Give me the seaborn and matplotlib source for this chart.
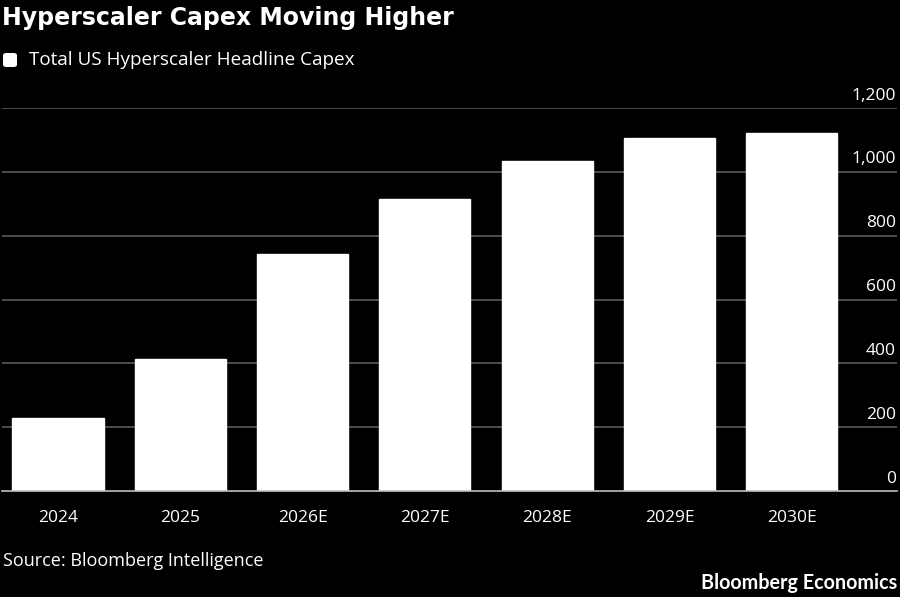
import matplotlib
matplotlib.use("Agg")
import matplotlib.pyplot as plt
import matplotlib.transforms as mtransforms
from matplotlib.patches import FancyBboxPatch
import seaborn as sns
import pandas as pd

# chart data
years = ["2024", "2025", "2026E", "2027E", "2028E", "2029E", "2030E"]
capex = [230, 414, 742, 916, 1035, 1107, 1122]
y_ticks = [0, 200, 400, 600, 800, 1000, 1200]
y_tick_labels = ["0", "200", "400", "600", "800", "1,000", "1,200"]

title = "Hyperscaler Capex Moving Higher"
legend_label = "Total US Hyperscaler Headline Capex"
source = "Source: Bloomberg Intelligence"
brand = "Bloomberg Economics"

df = pd.DataFrame({"year": years, "capex": capex})

sns.set_theme(style="white")
plt.rcParams["font.family"] = ["Open Sans", "DejaVu Sans"]
BG = "#000000"
GRID = "#5a5a5a"
FG = "#ffffff"

W, H = 900, 597
fig = plt.figure(figsize=(W / 100, H / 100), dpi=100, facecolor=BG)

# axes box in pixel terms
left_px, right_px, top_px, bottom_px = 2, 897, 108, 491
ax = fig.add_axes([left_px / W, 1 - bottom_px / H,
                   (right_px - left_px) / W, (bottom_px - top_px) / H])
ax.set_facecolor(BG)

sns.barplot(data=df, x="year", y="capex", color=FG, saturation=1,
            width=0.745, ax=ax, zorder=3)

# category step is ~122.3 px, first centre at x=58
step = 122.3
x0 = -(58 - left_px) / step
x1 = x0 + (right_px - left_px) / step
ax.set_xlim(x0, x1)
ax.set_ylim(0, 1200)

for s in ["top", "left", "right"]:
    ax.spines[s].set_visible(False)
ax.spines["bottom"].set_color("#bfbfbf")
ax.spines["bottom"].set_linewidth(1.2)
ax.spines["bottom"].set_zorder(4)

ax.set_yticks(y_ticks)
ax.set_yticklabels([])
ax.tick_params(axis="y", length=0)
for v in y_ticks[1:]:
    ax.axhline(v, color=GRID, lw=1.2, zorder=1)

ax.tick_params(axis="x", colors="#bfbfbf", length=6, width=1.2,
               direction="out", pad=8, labelsize=12.5, labelcolor=FG)
ax.set_xlabel("")
ax.set_ylabel("")

# y labels sit above the gridlines at the right edge
trans = mtransforms.blended_transform_factory(ax.transAxes, ax.transData)
for v, lab in zip(y_ticks, y_tick_labels):
    ax.text(0.999, v + 14, lab, transform=trans, ha="right", va="bottom",
            color=FG, fontsize=12.5, zorder=5)

fig.text(2 / W, 1 - 18 / H, title, color=FG, fontsize=17, fontweight="bold",
         family="DejaVu Sans", ha="left", va="center")

# legend swatch + label
fig.patches.append(FancyBboxPatch((3 / W, 1 - 67 / H), 14 / W, 14 / H,
                                  boxstyle="round,pad=0,rounding_size=0.004",
                                  transform=fig.transFigure, facecolor=FG,
                                  edgecolor="none"))
fig.text(29 / W, 1 - 60 / H, legend_label, color=FG, fontsize=13.6,
         ha="left", va="center")

fig.text(3 / W, 1 - 561 / H, source, color=FG, fontsize=13,
         ha="left", va="center")
fig.text(897 / W, 1 - 583 / H, brand, color=FG, fontsize=14.2,
         fontweight="bold", family=["Lato", "DejaVu Sans"],
         ha="right", va="center")

fig.savefig("out.png", dpi=100, facecolor=BG)
